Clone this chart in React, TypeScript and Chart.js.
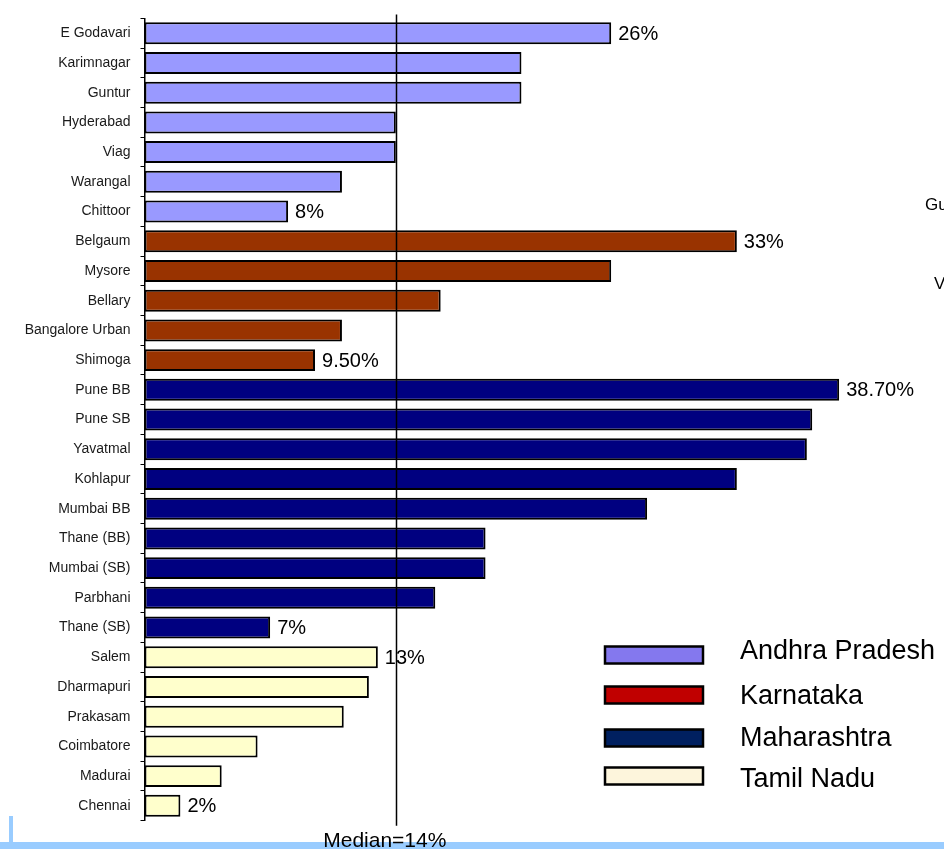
import React, { useEffect, useRef } from "react";
import { Chart, registerables } from "chart.js";

Chart.register(...registerables);

// Districts, top to bottom, grouped by state
const districts = [
  "E Godavari", "Karimnagar", "Guntur", "Hyderabad", "Viag", "Warangal", "Chittoor",
  "Belgaum", "Mysore", "Bellary", "Bangalore Urban", "Shimoga",
  "Pune BB", "Pune SB", "Yavatmal", "Kohlapur", "Mumbai BB", "Thane (BB)", "Mumbai (SB)", "Parbhani", "Thane (SB)",
  "Salem", "Dharmapuri", "Prakasam", "Coimbatore", "Madurai", "Chennai",
];

// Share (%) per district
const shares = [
  26, 21, 21, 14, 14, 11, 8,
  33, 26, 16.5, 11, 9.5,
  38.7, 37.2, 36.9, 33, 28, 19, 19, 16.2, 7,
  13, 12.5, 11.1, 6.3, 4.3, 2,
];

// State index of each district (into stateNames)
const stateOf = [
  0, 0, 0, 0, 0, 0, 0,
  1, 1, 1, 1, 1,
  2, 2, 2, 2, 2, 2, 2, 2, 2,
  3, 3, 3, 3, 3, 3,
];

// Value labels printed beside selected bars
const valueLabels = [
  "26%", "", "", "", "", "", "8%",
  "33%", "", "", "", "9.50%",
  "38.70%", "", "", "", "", "", "", "", "7%",
  "13%", "", "", "", "", "2%",
];

const stateNames = ["Andhra Pradesh", "Karnataka", "Maharashtra", "Tamil Nadu"];
const barColors = ["#9999FF", "#993300", "#000080", "#FFFFCC"];
const legendColors = ["#8478EE", "#C00000", "#002060", "#FDF5DC"];

const medianValue = 14;
const medianText = "Median=14%";
const sideNotes = ["Gu", "V"];

const FONT = "'Liberation Sans', Arial, sans-serif";

const overlayPlugin = {
  id: "overlay",
  afterDatasetsDraw(chart: any) {
    const { ctx, chartArea } = chart;
    const meta = chart.getDatasetMeta(0);
    ctx.save();
    ctx.beginPath();
    ctx.rect(0, 0, 918, chart.height);
    ctx.clip();
    ctx.fillStyle = "#000";
    ctx.font = `20px ${FONT}`;
    ctx.textAlign = "left";
    ctx.textBaseline = "middle";
    meta.data.forEach((bar: any, i: number) => {
      const t = valueLabels[i];
      if (t) ctx.fillText(t, bar.x + 7, bar.y + 1);
    });
    ctx.restore();

    // median reference line
    const mx = Math.round(chart.scales.x.getPixelForValue(medianValue)) + 0.5;
    ctx.save();
    ctx.strokeStyle = "#000";
    ctx.lineWidth = 1.5;
    ctx.beginPath();
    ctx.moveTo(mx, chartArea.top - 4);
    ctx.lineTo(mx, chartArea.bottom + 5);
    ctx.stroke();
    ctx.restore();
  },
  afterDraw(chart: any) {
    const { ctx } = chart;
    ctx.save();
    // light blue frame strip along the bottom
    ctx.fillStyle = "#99CCFF";
    ctx.fillRect(0, 842, chart.width, chart.height - 842);
    ctx.fillRect(9, 816, 4, 26);

    // median caption
    const mx = chart.scales.x.getPixelForValue(medianValue);
    ctx.fillStyle = "#000";
    ctx.font = `21px ${FONT}`;
    ctx.textAlign = "center";
    ctx.textBaseline = "alphabetic";
    ctx.fillText(medianText, mx - 11, 847);

    // legend
    const boxX = 605;
    const boxW = 98;
    const boxH = 17;
    const rowY = [655, 695, 738, 776];
    const textY = [652, 697, 739, 780];
    ctx.font = `27px ${FONT}`;
    ctx.textAlign = "left";
    ctx.textBaseline = "middle";
    stateNames.forEach((name, i) => {
      ctx.fillStyle = legendColors[i];
      ctx.fillRect(boxX, rowY[i] - boxH / 2, boxW, boxH);
      ctx.strokeStyle = "#000";
      ctx.lineWidth = 2.5;
      ctx.strokeRect(boxX, rowY[i] - boxH / 2, boxW, boxH);
      ctx.fillStyle = "#000";
      ctx.fillText(name, 740, textY[i]);
    });

    // notes running off the right edge
    ctx.font = `17px ${FONT}`;
    ctx.fillText(sideNotes[0], 925, 205);
    ctx.fillText(sideNotes[1], 934, 284);
    ctx.restore();
  },
};

export default function App() {
  const ref = useRef<HTMLCanvasElement | null>(null);

  useEffect(() => {
    if (!ref.current) return;
    const chart = new Chart(ref.current, {
      type: "bar",
      data: {
        labels: districts,
        datasets: [
          {
            data: shares,
            backgroundColor: stateOf.map((s) => barColors[s]),
            borderColor: "#000",
            borderWidth: 2,
            borderSkipped: false,
            barPercentage: 0.74,
            categoryPercentage: 1,
          },
        ],
      },
      options: {
        indexAxis: "y",
        responsive: false,
        animation: false,
        layout: { padding: { left: 0, right: 9.7, top: 10.7, bottom: 28.3 } },
        scales: {
          x: { display: false, min: 0, max: 44 },
          y: {
            afterFit(scale: any) {
              scale.width = 144.5;
            },
            grid: {
              display: true,
              drawOnChartArea: false,
              drawTicks: true,
              tickLength: 4,
              color: "#000",
              lineWidth: 1,
              offset: true,
            },
            border: { display: true, color: "#000", width: 1.5 },
            ticks: {
              color: "#1a1a1a",
              font: { family: FONT, size: 14 },
              padding: 10,
              autoSkip: false,
            },
          },
        },
        plugins: {
          legend: { display: false },
          tooltip: { enabled: false },
        },
      },
      plugins: [overlayPlugin],
    });
    return () => chart.destroy();
  }, []);

  return (
    <div style={{ position: "absolute", left: 0, top: 0, width: 944, height: 849, background: "#fff" }}>
      <canvas ref={ref} width={944} height={849} style={{ display: "block" }} />
    </div>
  );
}
